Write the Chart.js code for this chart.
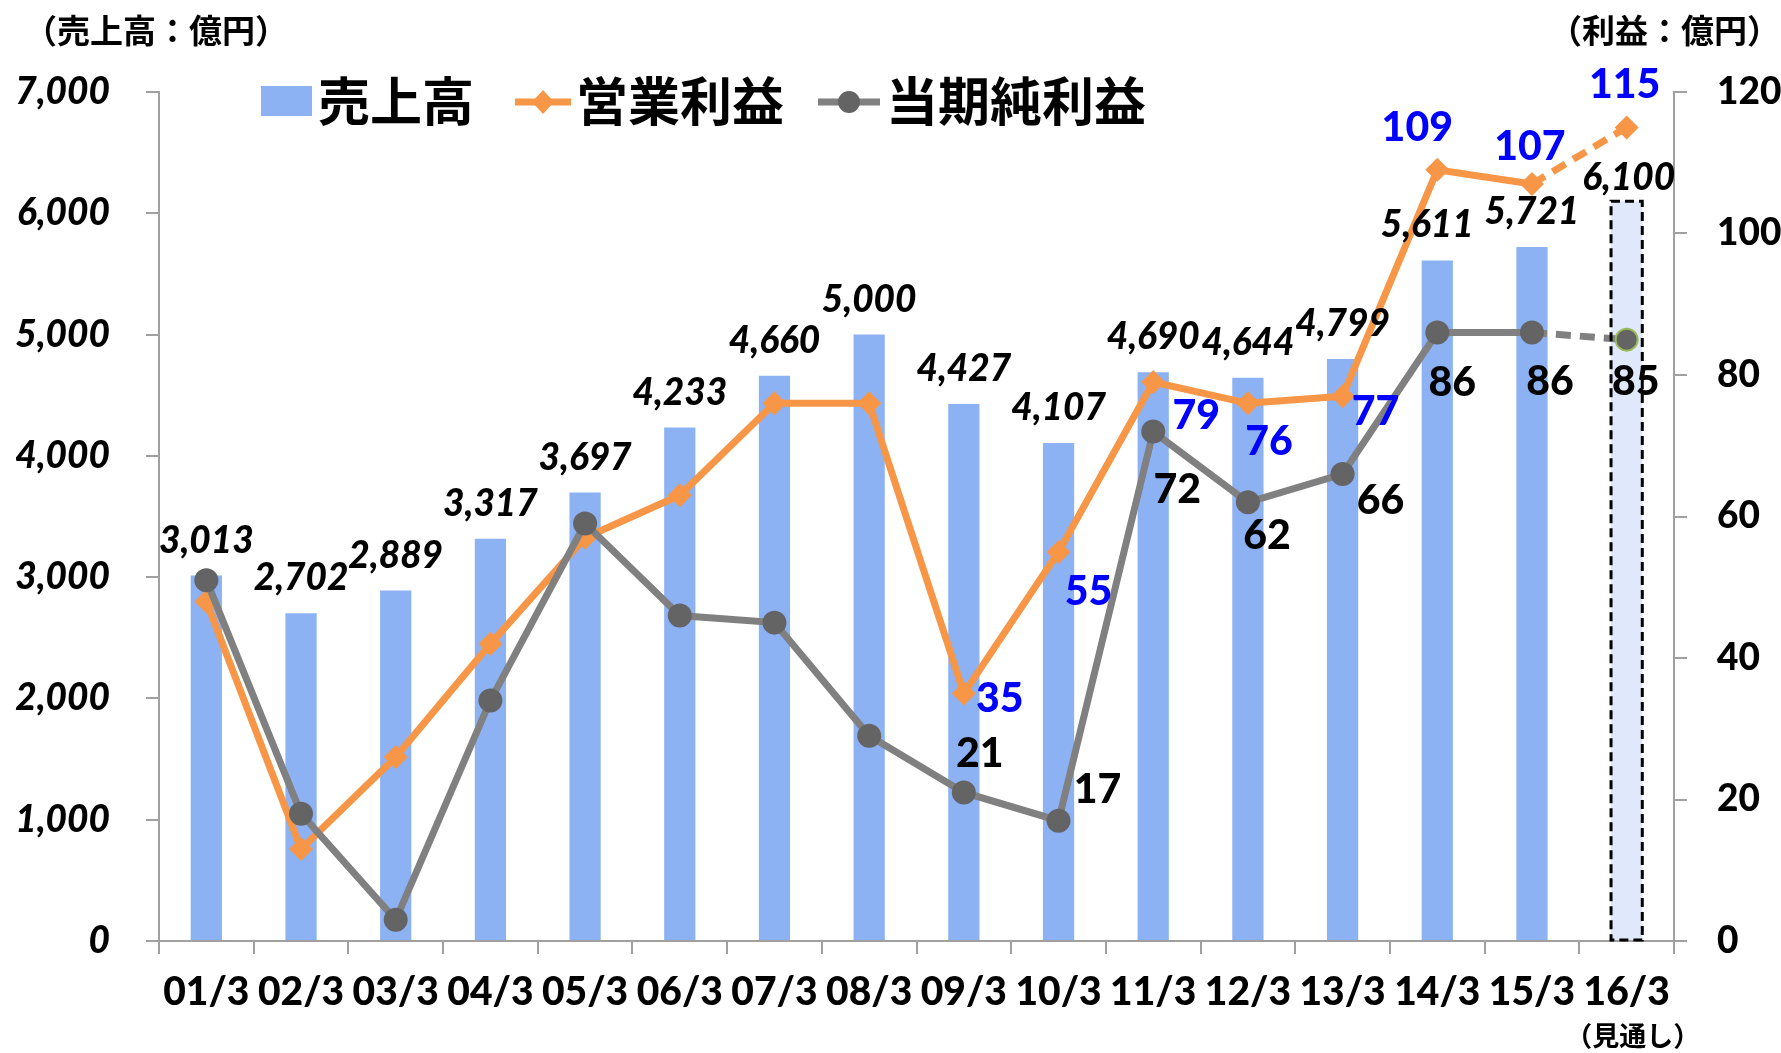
<!DOCTYPE html>
<html>
<head>
<meta charset="utf-8">
<script src="https://cdn.jsdelivr.net/npm/chart.js@4/dist/chart.umd.min.js"></script>
<style>
  html, body { margin: 0; padding: 0; background: #fff; }
  #wrap { width: 1781px; height: 1053px; }
</style>
</head>
<body>
<div id="wrap"><canvas id="chart" width="1781" height="1053"></canvas></div>
<script>
// data
var categories = ['01/3', '02/3', '03/3', '04/3', '05/3', '06/3', '07/3', '08/3',
                  '09/3', '10/3', '11/3', '12/3', '13/3', '14/3', '15/3', '16/3'];
var sales = [3013, 2702, 2889, 3317, 3697, 4233, 4660, 5000, 4427, 4107, 4690, 4644, 4799, 5611, 5721, 6100];
var operatingProfit = [48, 13, 26, 42, 57, 63, 76, 76, 35, 55, 79, 76, 77, 109, 107, 115];
var netProfit = [51, 18, 3, 34, 59, 46, 45, 29, 21, 17, 72, 62, 66, 86, 86, 85];
var forecastIndex = 15; // 16/3 is a forecast

// label placement (pixel offsets from the point), only for the labelled points
var opLabelShift = {8: [36, 5], 9: [30, 40], 10: [43, 34], 11: [21, 38], 12: [33, 16], 13: [-20, -42], 14: [-2, -37], 15: [-2, -43]};
var netLabelShift = {8: [16, -39], 9: [39, -31], 10: [24, 58], 11: [19, 33], 12: [38, 27], 13: [15, 50], 14: [18, 49], 15: [9, 42]};
var salesLabelShift = {13: [-10, 0], 15: [2, 12]};

var ORANGE = '#f79646';
var GRAY = '#808080';
var AXIS = '#a0a0a0';
var NUM = 'Lato, "Open Sans", sans-serif';
var JP = '"Noto Sans CJK JP", sans-serif';

var barColors = sales.map(function (v, i) { return i === forecastIndex ? '#dfe9fb' : '#8cb2f4'; });
var forecastDash = function (ctx) { return ctx.p1DataIndex === forecastIndex ? [15, 9] : undefined; };

var labelsPlugin = {
  id: 'labels',
  afterDatasetsDraw: function (chart) {
    var ctx = chart.ctx;
    var barMeta = chart.getDatasetMeta(0);
    var opMeta = chart.getDatasetMeta(1);
    var netMeta = chart.getDatasetMeta(2);
    ctx.save();

    // dashed outline of the forecast bar
    var fb = barMeta.data[forecastIndex];
    var half = fb.width / 2;
    ctx.strokeStyle = '#000';
    ctx.lineWidth = 3;
    ctx.setLineDash([9, 5]);
    ctx.strokeRect(fb.x - half, fb.y, fb.width, fb.base - fb.y);
    ctx.setLineDash([]);

    ctx.textAlign = 'center';
    ctx.textBaseline = 'middle';

    // sales labels
    ctx.fillStyle = '#000';
    ctx.font = 'italic 900 37px ' + NUM;
    barMeta.data.forEach(function (el, i) {
      var s = salesLabelShift[i] || [0, 0];
      ctx.fillText(sales[i].toLocaleString('en-US'), el.x + s[0], el.y - 35 + s[1]);
    });

    // profit labels
    ctx.font = '900 41px ' + NUM;
    ctx.fillStyle = '#0000ff';
    Object.keys(opLabelShift).forEach(function (k) {
      var el = opMeta.data[k], s = opLabelShift[k];
      ctx.fillText(String(operatingProfit[k]), el.x + s[0], el.y + s[1]);
    });
    ctx.fillStyle = '#000';
    Object.keys(netLabelShift).forEach(function (k) {
      var el = netMeta.data[k], s = netLabelShift[k];
      ctx.fillText(String(netProfit[k]), el.x + s[0], el.y + s[1]);
    });

    // axis unit titles
    ctx.font = 'bold 33px ' + JP;
    ctx.textAlign = 'left';
    ctx.fillText('（売上高：億円）', 24, 30);
    ctx.textAlign = 'right';
    ctx.fillText('（利益：億円）', 1780, 30);

    // forecast note under the last category
    ctx.textAlign = 'center';
    ctx.font = 'bold 27px ' + JP;
    ctx.fillText('（見通し）', barMeta.data[forecastIndex].x + 6, 1036);

    // legend
    var ly = 101;
    ctx.font = 'bold 52px ' + JP;
    ctx.textAlign = 'left';
    ctx.fillStyle = '#8cb2f4';
    ctx.fillRect(261, ly - 15, 51, 30);
    ctx.fillStyle = '#000';
    ctx.fillText('売上高', 318, ly);

    ctx.strokeStyle = ORANGE;
    ctx.lineWidth = 7;
    ctx.beginPath(); ctx.moveTo(515, ly + 1); ctx.lineTo(571, ly + 1); ctx.stroke();
    ctx.fillStyle = ORANGE;
    ctx.beginPath();
    ctx.moveTo(543, ly - 11); ctx.lineTo(554, ly + 1); ctx.lineTo(543, ly + 13); ctx.lineTo(532, ly + 1);
    ctx.closePath(); ctx.fill();
    ctx.fillStyle = '#000';
    ctx.fillText('営業利益', 576, ly);

    ctx.strokeStyle = GRAY;
    ctx.beginPath(); ctx.moveTo(818, ly + 1); ctx.lineTo(880, ly + 1); ctx.stroke();
    ctx.fillStyle = '#646464';
    ctx.beginPath(); ctx.arc(849, ly + 1, 11, 0, Math.PI * 2); ctx.fill();
    ctx.fillStyle = '#000';
    ctx.fillText('当期純利益', 886, ly);

    ctx.restore();
  }
};

var chart = new Chart(document.getElementById('chart').getContext('2d'), {
  type: 'bar',
  data: {
    labels: categories,
    datasets: [{
      label: '売上高',
      data: sales,
      backgroundColor: barColors,
      yAxisID: 'y',
      barPercentage: 0.33,
      categoryPercentage: 1,
      order: 3
    }, {
      type: 'line',
      label: '営業利益',
      data: operatingProfit,
      yAxisID: 'y1',
      borderColor: ORANGE,
      backgroundColor: ORANGE,
      borderWidth: 7,
      pointStyle: 'rectRot',
      pointRadius: 12,
      pointBorderWidth: 0,
      segment: { borderDash: forecastDash },
      order: 2
    }, {
      type: 'line',
      label: '当期純利益',
      data: netProfit,
      yAxisID: 'y1',
      borderColor: GRAY,
      backgroundColor: '#646464',
      borderWidth: 7,
      pointStyle: 'circle',
      pointRadius: 11,
      pointBorderColor: netProfit.map(function (v, i) { return i === forecastIndex ? '#9bbb59' : '#646464'; }),
      pointBorderWidth: 2,
      segment: { borderDash: forecastDash },
      order: 1
    }]
  },
  options: {
    responsive: false,
    animation: false,
    layout: { padding: { top: 92 } },
    plugins: { legend: { display: false }, tooltip: { enabled: false } },
    scales: {
      x: {
        grid: { drawOnChartArea: false, tickLength: 13, color: AXIS, lineWidth: 2 },
        border: { color: AXIS, width: 2 },
        ticks: { color: '#000', font: { family: NUM, size: 39, weight: '900' }, padding: 15, maxRotation: 0, autoSkip: false },
        afterFit: function (s) { s.height = 112; }
      },
      y: {
        position: 'left',
        min: 0, max: 7000,
        ticks: {
          stepSize: 1000, color: '#000', padding: 36,
          font: { family: NUM, size: 37, weight: '900', style: 'italic' },
          callback: function (v) { return v.toLocaleString('en-US'); }
        },
        grid: { drawOnChartArea: false, tickLength: 13, color: AXIS, lineWidth: 2 },
        border: { color: AXIS, width: 2 },
        afterFit: function (s) { s.width = 159; }
      },
      y1: {
        position: 'right',
        min: 0, max: 120,
        ticks: { stepSize: 20, color: '#000', padding: 30, font: { family: NUM, size: 37, weight: '900' } },
        grid: { drawOnChartArea: false, tickLength: 13, color: AXIS, lineWidth: 2 },
        border: { color: AXIS, width: 2 },
        afterFit: function (s) { s.width = 107; }
      }
    }
  },
  plugins: [labelsPlugin]
});
</script>
</body>
</html>
